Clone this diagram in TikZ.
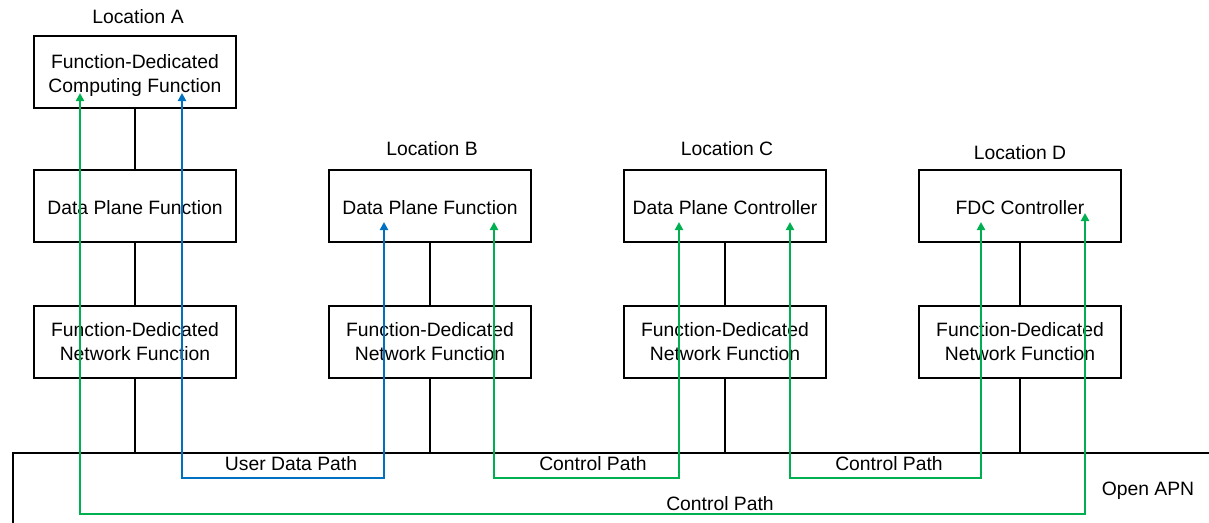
\documentclass[tikz,border=0pt]{standalone}
\usepackage{fontspec}
\setmainfont{Liberation Sans}
\usetikzlibrary{arrows.meta}
\definecolor{pblue}{RGB}{0,112,192}
\definecolor{pgreen}{RGB}{0,176,80}
\newcommand{\dn}[2]{\raisebox{-#1}[\height][\depth]{#2}}
\begin{document}
\begin{tikzpicture}[x=0.75pt,y=-0.75pt,
  txt/.style={font=\fontsize{14.5}{18}\selectfont},
  box/.style={draw,line width=1.5pt,minimum width=151.5pt,minimum height=54pt,inner sep=0pt,align=center,txt},
  lbl/.style={txt,inner sep=1pt},
  link/.style={line width=1.5pt},
  tip/.style={{Triangle[length=6pt,width=6pt]}-{Triangle[length=6pt,width=6pt]}},
  upath/.style={line width=1.5pt,pblue,tip},
  cpath/.style={line width=1.5pt,pgreen,tip}]
\useasboundingbox (0,0) rectangle (1209,522);
% boxes
\node[box] (A1) at (135,72) {\dn{3pt}{\begin{tabular}{@{}c@{}}Function-Dedicated\\Computing Function\end{tabular}}};
\node[box] (A2) at (135,206) {\dn{1pt}{Data Plane Function}};
\node[box] (A3) at (135,342) {Function-Dedicated\\Network Function};
\node[box] (B2) at (430,206) {\dn{1pt}{Data Plane Function}};
\node[box] (B3) at (430,342) {Function-Dedicated\\Network Function};
\node[box] (C2) at (725,206) {\dn{1pt}{Data Plane Controller}};
\node[box] (C3) at (725,342) {Function-Dedicated\\Network Function};
\node[box] (D2) at (1020,206) {\dn{1pt}{FDC Controller}};
\node[box] (D3) at (1020,342) {Function-Dedicated\\Network Function};
\node[draw,line width=1.5pt,anchor=north west,minimum width=900pt,minimum height=80pt,inner sep=0pt] (apn) at (12,452) {};
% location labels
\node[lbl] (LA) at (138,17) {Location A};
\node[lbl] (LB) at (432,149) {Location B};
\node[lbl] (LC) at (727,149) {Location C};
\node[lbl] (LD) at (1020,153) {Location D};
\node[lbl] (LAPN) at (1148,491) {Open APN};
% vertical links
\draw[link] (A1) -- (A2);
\draw[link] (A2) -- (A3);
\draw[link] (A3.south) -- (A3.south |- apn.north);
\draw[link] (B2) -- (B3);
\draw[link] (B3.south) -- (B3.south |- apn.north);
\draw[link] (C2) -- (C3);
\draw[link] (C3.south) -- (C3.south |- apn.north);
\draw[link] (D2) -- (D3);
\draw[link] (D3.south) -- (D3.south |- apn.north);
% path end points
\coordinate (gA) at (80,93);
\coordinate (bA) at (182,93);
\coordinate (bB) at (384,222);
\coordinate (gB) at (494,222);
\coordinate (gC1) at (679,222);
\coordinate (gC2) at (790,222);
\coordinate (gD1) at (981,222);
\coordinate (gD2) at (1085,213);
\coordinate (low1) at (0,478);
\coordinate (low2) at (0,514);
% paths
\draw[upath] (bA) -- (bA |- low1) -| (bB);
\draw[cpath] (gB) -- (gB |- low1) -| (gC1);
\draw[cpath] (gC2) -- (gC2 |- low1) -| (gD1);
\draw[cpath] (gA) -- (gA |- low2) -| (gD2);
% path labels
\node[lbl] (t1) at (291,464) {User Data Path};
\node[lbl] (t2) at (593,464) {Control Path};
\node[lbl] (t3) at (889,464) {Control Path};
\node[lbl] (t4) at (720,504) {Control Path};
\end{tikzpicture}
\end{document}
